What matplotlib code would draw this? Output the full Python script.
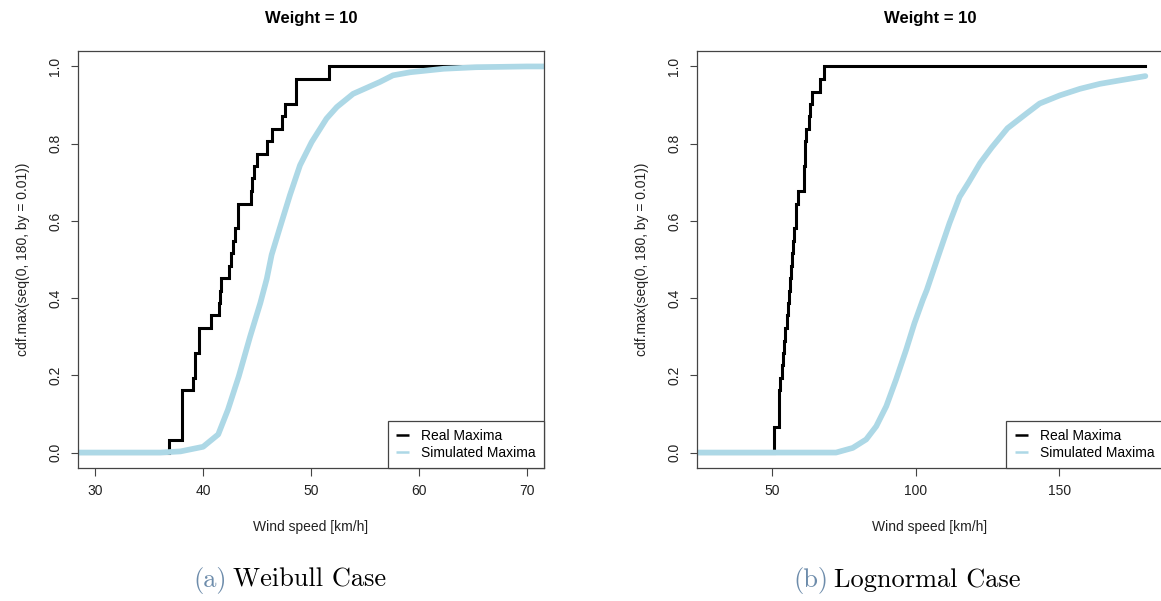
import matplotlib
matplotlib.use("Agg")
import matplotlib.pyplot as plt

plt.rcParams["font.family"] = ["Liberation Sans", "DejaVu Sans"]

# ---- data -------------------------------------------------------------
# Empirical CDF of the observed maxima: jump locations and level after jump
weibull_real_x = [0, 36.8, 38.0, 39.05, 39.2, 39.65, 40.7, 41.45, 41.55, 41.65,
                  42.4, 42.6, 42.8, 42.95, 43.2, 44.4, 44.55, 44.7, 45.0, 45.95,
                  46.4, 47.35, 47.55, 48.6, 51.7, 180]
weibull_real_cdf = [0, 0.032, 0.161, 0.194, 0.258, 0.323, 0.355, 0.387, 0.419, 0.452,
                    0.484, 0.516, 0.548, 0.581, 0.645, 0.677, 0.710, 0.742, 0.774, 0.806,
                    0.839, 0.871, 0.903, 0.968, 1.0, 1.0]

# CDF of the simulated maxima
weibull_sim_x = [0, 36.0, 37.9, 40.0, 41.4, 42.3, 43.3, 44.35, 45.3, 45.9,
                 46.35, 47.1, 48.05, 48.98, 50.06, 51.44, 52.4, 53.9, 56.4,
                 57.6, 59.2, 62.3, 65.3, 70.0, 180]
weibull_sim_cdf = [0, 0, 0.003, 0.015, 0.047, 0.111, 0.197, 0.30, 0.387, 0.45,
                   0.512, 0.581, 0.667, 0.744, 0.804, 0.865, 0.895, 0.929, 0.96,
                   0.977, 0.985, 0.994, 0.998, 1.0, 1.0]

lognormal_real_x = [0, 50.8, 52.3, 52.45, 52.55, 52.8, 53.5, 53.9, 54.3, 54.6,
                    55.2, 55.5, 56.0, 56.4, 56.7, 57.1, 57.3, 57.5, 58.2, 58.5,
                    58.9, 61.0, 61.2, 61.4, 61.6, 61.85, 62.8, 63.4, 64.0, 66.7,
                    68.2, 180]
lognormal_real_cdf = [0, 0.065, 0.097, 0.129, 0.161, 0.194, 0.226, 0.258, 0.290, 0.323,
                      0.355, 0.387, 0.419, 0.452, 0.484, 0.516, 0.548, 0.581, 0.613, 0.645,
                      0.677, 0.710, 0.742, 0.774, 0.806, 0.839, 0.871, 0.903, 0.935, 0.968,
                      1.0, 1.0]

lognormal_sim_x = [0, 72.3, 78.1, 82.8, 86.3, 89.8, 93.2, 96.7, 99.6, 102.5,
                   103.9, 107.8, 111.8, 115.3, 118.5, 122.5, 126.5, 132.0, 138.6,
                   143.2, 150.2, 157.2, 164.2, 171.2, 180]
lognormal_sim_cdf = [0, 0, 0.012, 0.034, 0.068, 0.12, 0.189, 0.266, 0.335, 0.395,
                     0.421, 0.507, 0.594, 0.662, 0.70, 0.75, 0.79, 0.84, 0.878,
                     0.904, 0.925, 0.942, 0.955, 0.964, 0.975]

panel_xlims = [(30, 70), (30, 180)]
panel_xticks = [[30, 40, 50, 60, 70], [50, 100, 150]]
panel_titles = ["Weight = 10", "Weight = 10"]
caption_tags = ["(a)", "(b)"]
caption_texts = ["Weibull Case", "Lognormal Case"]
legend_labels = ["Real Maxima", "Simulated Maxima"]
y_ticks = [0.0, 0.2, 0.4, 0.6, 0.8, 1.0]

# ---- figure -----------------------------------------------------------
W, H = 1161, 601
fig = plt.figure(figsize=(W / 100, H / 100), dpi=100)

frame_col = "#444444"
real_col = "black"
sim_col = "#ADD8E6"

axes_px = [(78, 51, 544, 468), (697.3, 51, 1162.6, 468)]
series = [(weibull_real_x, weibull_real_cdf, weibull_sim_x, weibull_sim_cdf),
          (lognormal_real_x, lognormal_real_cdf, lognormal_sim_x, lognormal_sim_cdf)]

for i, (l, t, r, b) in enumerate(axes_px):
    ax = fig.add_axes([l / W, (H - b) / H, (r - l) / W, (b - t) / H])
    rx, ry, sx, sy = series[i]
    ax.step(rx, ry, where="post", color=real_col, lw=2.2,
            solid_joinstyle="miter", label=legend_labels[0])
    ax.plot(sx, sy, color=sim_col, lw=4.1, solid_capstyle="round",
            solid_joinstyle="round", label=legend_labels[1])

    lo, hi = panel_xlims[i]
    pad = 0.04 * (hi - lo)
    ax.set_xlim(lo - pad, hi + pad)
    ax.set_ylim(-0.04, 1.04)
    ax.set_xticks(panel_xticks[i])
    ax.set_yticks(y_ticks)
    ax.set_yticklabels([f"{v:.1f}" for v in y_ticks], rotation=90, va="center")

    for s in ax.spines.values():
        s.set_color(frame_col)
        s.set_linewidth(0.9)
    ax.tick_params(direction="out", length=5.4, width=0.8, color=frame_col,
                   labelsize=10, labelcolor="#222222")
    ax.tick_params(axis="x", pad=6)
    ax.tick_params(axis="y", pad=6)

    ax.set_xlabel("Wind speed [km/h]", fontsize=10, color="#222222")
    ax.xaxis.set_label_coords(0.5, -59 / 417)
    ax.xaxis.label.set_va("center")
    ax.set_ylabel("cdf.max(seq(0, 180, by = 0.01))", fontsize=10, color="#222222")
    ax.yaxis.set_label_coords(-55 / 466, 0.5)
    ax.yaxis.label.set_va("center")

    ax.set_title(panel_titles[i], fontsize=12, fontweight="bold",
                 y=1 + 33 / 417, pad=0)
    ax.title.set_va("center")

    leg = ax.legend(loc="lower right", borderaxespad=0, fancybox=False,
                    framealpha=1, edgecolor=frame_col, fontsize=10,
                    handlelength=0.95, handletextpad=0.85, labelspacing=0.2,
                    borderpad=0.6)
    leg.get_frame().set_linewidth(0.9)
    for line in leg.get_lines():
        line.set_linewidth(1.8)
        line.set_solid_capstyle("butt")

# ---- captions -----------------------------------------------------------
caption_x = [193, 793]
fig.canvas.draw()
renderer = fig.canvas.get_renderer()
for i in range(2):
    tag = fig.text(caption_x[i] / W, 1 - 580 / H, caption_tags[i], fontsize=19,
                   family="cmr10", color="#6d8cab", ha="left", va="center")
    bb = tag.get_window_extent(renderer)
    fig.text((bb.x1 + 6) / W, 1 - 580 / H, caption_texts[i], fontsize=19,
             family="cmr10", color="black", ha="left", va="center")

fig.savefig("out.png", dpi=100)
